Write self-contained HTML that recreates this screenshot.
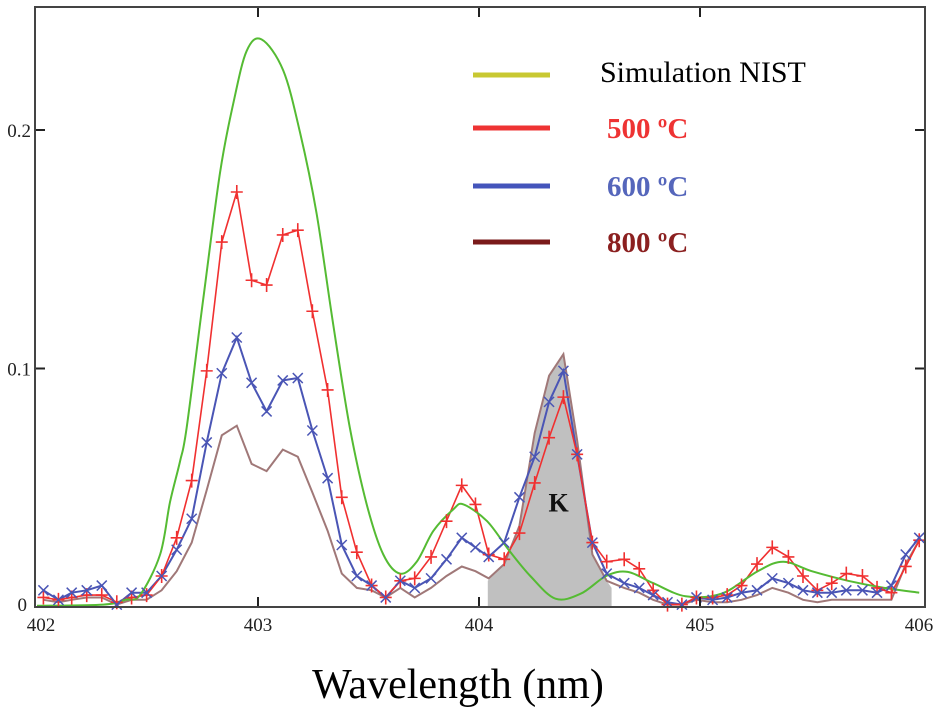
<!DOCTYPE html>
<html><head><meta charset="utf-8"><style>
html,body{margin:0;padding:0;background:#fff;}
svg{display:block;font-family:"Liberation Serif",serif;}
</style></head><body>
<svg id="chart" width="950" height="710" viewBox="0 0 950 710" xmlns="http://www.w3.org/2000/svg">
<g id="plot"></g>
<rect x="35" y="7" width="890" height="600" fill="none" stroke="#444" stroke-width="2"/>
<g>
<line x1="473" y1="75" x2="550" y2="75" stroke="#c8c832" stroke-width="5"/>
<text x="600" y="82" font-size="30" fill="#000">Simulation NIST</text>
<line x1="473" y1="128" x2="550" y2="128" stroke="#ee3333" stroke-width="5"/>
<text x="607" y="138" font-size="29" font-weight="bold" fill="#ee3333">500 ºC</text>
<line x1="473" y1="186" x2="550" y2="186" stroke="#4455bb" stroke-width="5"/>
<text x="607" y="196" font-size="29" font-weight="bold" fill="#5566bb">600 ºC</text>
<line x1="473" y1="242" x2="550" y2="242" stroke="#7a1a1a" stroke-width="5"/>
<text x="607" y="252" font-size="29" font-weight="bold" fill="#8b2020">800 ºC</text>
</g>
<text x="458" y="698" font-size="42" text-anchor="middle" fill="#000">Wavelength (nm)</text>
</svg>
<script>
const xTicks=[402,403,404,405,406];
const yTicks=[0,0.1,0.2];
const yTickLabels=["0","0.1","0.2"];
const nistX=[402.0,402.3,402.4,402.466,402.557,402.602,402.647,402.677,402.752,402.828,402.888,402.948,403.016,403.114,403.19,403.265,403.341,403.416,403.492,403.567,403.643,403.718,403.794,403.884,403.93,404.036,404.134,404.232,404.346,404.461,404.575,404.673,404.788,404.935,405.098,405.261,405.376,405.506,405.67,405.833,405.992];
const nistY=[0.0005,0.001,0.003,0.005,0.022,0.044,0.061,0.075,0.129,0.182,0.211,0.233,0.238,0.225,0.199,0.165,0.118,0.075,0.043,0.022,0.014,0.019,0.032,0.041,0.043,0.036,0.024,0.013,0.0035,0.0056,0.013,0.0147,0.010,0.0045,0.0056,0.015,0.019,0.015,0.011,0.008,0.006];
const wl=[402.029,402.097,402.157,402.225,402.293,402.361,402.428,402.496,402.564,402.632,402.700,402.768,402.836,402.904,402.971,403.039,403.112,403.180,403.246,403.315,403.379,403.447,403.514,403.578,403.644,403.709,403.783,403.853,403.922,403.984,404.044,404.114,404.183,404.252,404.317,404.382,404.444,404.513,404.578,404.657,404.725,404.788,404.853,404.918,404.984,405.057,405.123,405.188,405.258,405.327,405.400,405.466,405.531,405.596,405.662,405.735,405.801,405.866,405.931,405.992];
const red500=[0.004,0.003,0.004,0.005,0.005,0.002,0.004,0.005,0.013,0.029,0.053,0.099,0.153,0.174,0.137,0.135,0.156,0.158,0.124,0.091,0.046,0.023,0.009,0.004,0.011,0.012,0.021,0.036,0.051,0.043,0.022,0.020,0.031,0.052,0.071,0.088,0.064,0.027,0.019,0.020,0.016,0.007,0.001,0.001,0.004,0.004,0.005,0.009,0.018,0.025,0.021,0.013,0.007,0.010,0.014,0.013,0.008,0.006,0.017,0.028];
const blue600=[0.007,0.003,0.006,0.007,0.009,0.001,0.006,0.006,0.013,0.024,0.037,0.069,0.098,0.113,0.094,0.082,0.095,0.096,0.074,0.054,0.026,0.013,0.009,0.004,0.011,0.008,0.012,0.020,0.029,0.025,0.021,0.027,0.046,0.063,0.086,0.099,0.064,0.027,0.014,0.010,0.008,0.005,0.002,0.001,0.004,0.003,0.004,0.006,0.007,0.012,0.010,0.007,0.006,0.006,0.007,0.007,0.006,0.009,0.022,0.029];
const brown800=[0.003,0.002,0.003,0.004,0.004,0.001,0.003,0.003,0.007,0.015,0.027,0.049,0.072,0.076,0.060,0.057,0.066,0.063,0.048,0.032,0.014,0.008,0.007,0.004,0.008,0.004,0.008,0.013,0.017,0.015,0.012,0.018,0.034,0.073,0.097,0.106,0.070,0.022,0.011,0.008,0.006,0.003,0.001,0.001,0.003,0.002,0.002,0.003,0.005,0.008,0.006,0.003,0.002,0.003,0.003,0.003,0.003,0.003,0.018,0.028];
const fillX=[404.04,404.04,404.114,404.183,404.252,404.317,404.382,404.444,404.513,404.578,404.6,404.6];
const fillY=[0,0.011,0.018,0.034,0.073,0.097,0.106,0.070,0.022,0.011,0.008,0];

const X0=37,X1=921,Y0=607,Y1=130;
const sx=v=>X0+(v-402)/(406-402)*(X1-X0);
const sy=v=>Y0-(v/0.2)*(Y0-Y1);
const NS="http://www.w3.org/2000/svg";
const plot=document.getElementById('plot');
function mk(tag,attrs,parent){const e=document.createElementNS(NS,tag);for(const k in attrs)e.setAttribute(k,attrs[k]);(parent||plot).appendChild(e);return e;}
function pts(xs,ys){return xs.map((x,i)=>sx(x).toFixed(1)+','+sy(ys[i]).toFixed(1)).join(' ');}
function smooth(xs,ys){
  const P=xs.map((x,i)=>[sx(x),sy(ys[i])]);
  let d='M'+P[0][0].toFixed(1)+','+P[0][1].toFixed(1);
  for(let i=0;i<P.length-1;i++){
    const p0=P[Math.max(0,i-1)],p1=P[i],p2=P[i+1],p3=P[Math.min(P.length-1,i+2)];
    const c1=[p1[0]+(p2[0]-p0[0])/6,p1[1]+(p2[1]-p0[1])/6];
    const c2=[p2[0]-(p3[0]-p1[0])/6,p2[1]-(p3[1]-p1[1])/6];
    d+=`C${c1[0].toFixed(1)},${c1[1].toFixed(1)} ${c2[0].toFixed(1)},${c2[1].toFixed(1)} ${p2[0].toFixed(1)},${p2[1].toFixed(1)}`;
  }
  return d;
}

const fill=mk('polygon',{points:pts(fillX,fillY),fill:'#c0c0c0'});


const kl=mk('text',{x:sx(404.36),y:sy(0.04),'font-size':26,'font-weight':'bold','text-anchor':'middle',fill:'#111'});
kl.textContent='K';



const s800=mk('polyline',{points:pts(wl,brown800),fill:'none',stroke:'#a07878','stroke-width':2});


const s600=mk('polyline',{points:pts(wl,blue600),fill:'none',stroke:'#4a55b5','stroke-width':2});


const s500=mk('polyline',{points:pts(wl,red500),fill:'none',stroke:'#f03030','stroke-width':1.6});


const sn=mk('path',{d:smooth(nistX,nistY),fill:'none',stroke:'#55bb33','stroke-width':2});



wl.forEach((x,i)=>{
  const cx=sx(x),cy=sy(red500[i]);
  const p=mk('path',{d:`M${cx-6},${cy}H${cx+6}M${cx},${cy-7}V${cy+7}`,stroke:'#f03030','stroke-width':1.6,fill:'none'});
  
  
  const bx=sx(x),by=sy(blue600[i]);
  const q=mk('path',{d:`M${bx-5},${by-5}L${bx+5},${by+5}M${bx-5},${by+5}L${bx+5},${by-5}`,stroke:'#4a55b5','stroke-width':1.5,fill:'none'});
  
  
});

xTicks.forEach(t=>{
  const x=sx(t);
  if(t>402&&t<406){
    const a=mk('line',{x1:x,y1:607,x2:x,y2:597,stroke:'#222','stroke-width':2});
    
    
    const b=mk('line',{x1:x,y1:7,x2:x,y2:17,stroke:'#222','stroke-width':2});
    
    
  }
  const l=mk('text',{x:t===402?x+4:(t===406?x-2:x),y:631,'font-size':19,'text-anchor':'middle',fill:'#222'});
  l.textContent=String(t);
  
  
});
yTicks.forEach((t,i)=>{
  const y=sy(t);
  if(t>0){
    const a=mk('line',{x1:35,y1:y,x2:45,y2:y,stroke:'#222','stroke-width':2});
    
    
    const b=mk('line',{x1:915,y1:y,x2:925,y2:y,stroke:'#222','stroke-width':2});
    
    
  }
  const l=mk('text',{x:t===0?27:31,y:t===0?y+4:y+7,'font-size':19,'text-anchor':'end',fill:'#222'});
  l.textContent=yTickLabels[i];
  
  
});
</script>
</body></html>
